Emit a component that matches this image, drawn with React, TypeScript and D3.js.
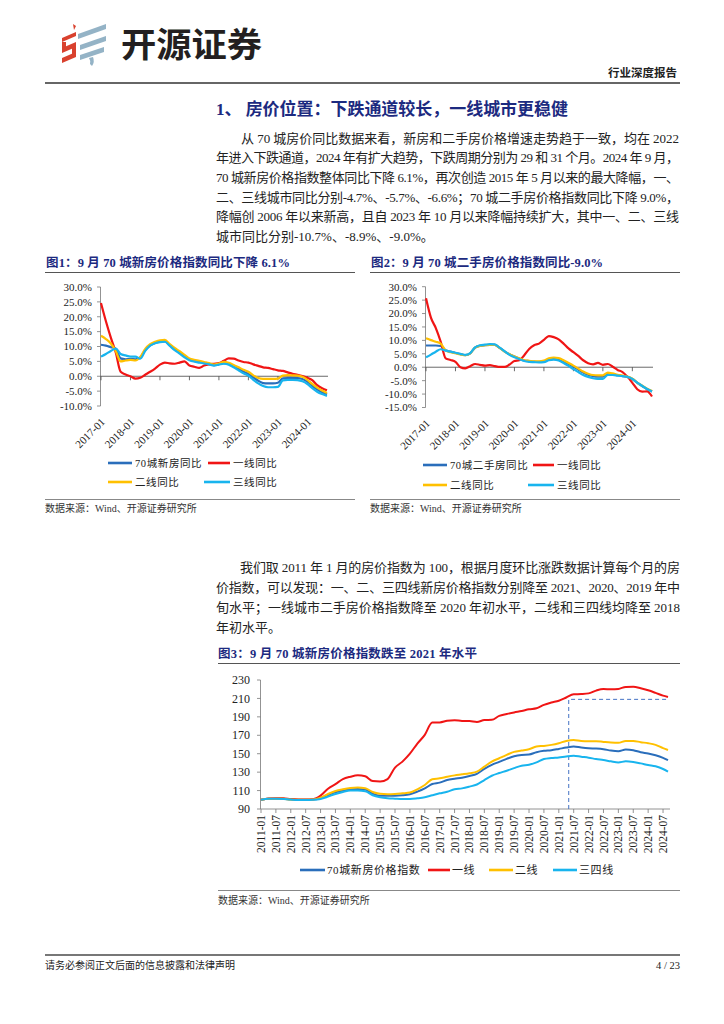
import * as d3 from 'd3';

// ---- data: YoY charts, every 2 months from 2017-01 (offset in months) ----
const yoyMonths = d3.range(0, 93, 2);
const yoyYearLabels = ['2017-01', '2018-01', '2019-01', '2020-01', '2021-01', '2022-01', '2023-01', '2024-01'];

const newHome70 = [10.6, 10.3, 9.8, 9.3, 6.0, 5.7, 5.8, 5.7, 6.3, 8.8, 10.4, 11.2, 11.6, 11.7, 10.4, 9.1, 8.0, 6.8, 5.7, 5.2, 4.9, 4.5, 4.1, 3.7, 4.1, 4.4, 4.2, 3.4, 2.5, 1.6, 0.8, -0.4, -1.5, -2.3, -2.4, -2.4, -2.2, -0.7, -0.6, -0.6, -0.6, -0.9, -1.8, -3.2, -4.4, -5.4, -6.1];
const newTier1 = [24.6, 18.5, 13, 8, 1.5, 0.6, 0, -0.8, -0.5, 0.5, 1.5, 2.6, 3.9, 4.6, 4.3, 4.2, 4.6, 5.0, 3.6, 3.2, 2.8, 3.6, 4.0, 4.2, 4.4, 5.2, 6.0, 5.9, 5.3, 4.8, 4.6, 4.0, 3.5, 3.0, 2.8, 2.4, 2.0, 1.8, 1.3, 0.8, 0.5, 0.1, -0.5, -1.3, -3.0, -4.0, -4.7];
const newTier2 = [13.6, 12.5, 11, 8.5, 5.0, 5.3, 5.5, 5.3, 6.5, 9.2, 10.8, 11.6, 12.1, 12.2, 10.8, 9.5, 8.4, 7.2, 6.0, 5.5, 5.2, 4.8, 4.4, 3.9, 4.3, 4.8, 4.5, 3.8, 3.0, 2.2, 1.5, 0.3, -0.6, -0.9, -0.9, -0.9, -0.8, 0.2, 0.4, 0.3, 0.2, -0.2, -1.2, -2.6, -3.8, -4.8, -5.6];
const newTier3 = [6.6, 7.5, 8.5, 9.3, 7.5, 7.0, 6.6, 6.6, 5.9, 8.5, 10.3, 11.1, 11.5, 11.6, 10.2, 8.8, 7.6, 6.4, 5.4, 4.9, 4.6, 4.3, 4.0, 3.6, 3.9, 4.2, 3.9, 3.0, 2.0, 1.0, 0.2, -1.2, -2.4, -3.3, -3.7, -3.7, -3.6, -1.4, -1.2, -1.2, -1.3, -1.7, -2.6, -4.0, -5.2, -6.0, -6.6];

const usedHome70 = [8.1, 8.1, 8.1, 7.9, 6.3, 5.8, 5.3, 4.9, 4.5, 5.2, 7.3, 8.0, 8.2, 8.3, 8.3, 7.2, 5.9, 4.8, 4.0, 3.2, 2.5, 2.3, 2.1, 2.0, 2.2, 2.9, 3.1, 2.9, 2.2, 1.2, 0.2, -0.9, -2.0, -2.8, -3.3, -3.5, -3.5, -2.6, -2.7, -3.0, -3.3, -3.6, -4.4, -5.8, -7.0, -8.2, -9.0];
const usedTier1 = [25.7, 18.5, 14.6, 9.5, 3.3, 2.7, 2.0, 0.0, -0.4, 0.4, 1.2, 0.9, 0.6, 0.8, 0.4, 0.1, 0.1, 1.0, 2.3, 2.6, 4.5, 6.8, 8.2, 8.8, 10.2, 11.6, 11.2, 10.4, 8.8, 7.0, 5.6, 4.2, 2.6, 1.5, 1.1, 1.6, 0.9, 1.2, 0.2, -1.0, -1.8, -3.5, -5.8, -8.2, -9.1, -9.0, -10.9];
const usedTier2 = [10.8, 10.1, 9.5, 8.8, 6.3, 5.6, 5.2, 4.8, 4.5, 5.2, 7.3, 8.0, 8.2, 8.3, 8.3, 7.2, 5.8, 4.8, 4.0, 3.3, 2.6, 2.4, 2.2, 2.2, 2.5, 3.3, 3.6, 3.4, 2.6, 1.6, 0.6, -0.5, -1.6, -2.4, -2.9, -3.0, -3.0, -2.0, -2.3, -2.8, -3.1, -3.5, -4.3, -5.7, -6.9, -8.0, -8.9];
const usedTier3 = [3.7, 4.7, 5.8, 6.7, 6.2, 5.8, 5.4, 5.0, 4.6, 5.3, 7.4, 8.2, 8.4, 8.6, 8.5, 7.3, 5.9, 4.6, 3.7, 3.0, 2.3, 2.0, 1.9, 1.8, 1.9, 2.6, 2.8, 2.5, 1.6, 0.5, -0.7, -1.8, -2.9, -3.6, -4.1, -4.3, -4.3, -2.9, -2.9, -3.1, -3.3, -3.6, -4.4, -5.7, -7.0, -8.1, -9.0];

// ---- data: price index (2011-01 = 100), quarterly samples, months from 2011-01 ----
const idxMonths = [...d3.range(0, 163, 3), 164];
const idxTickLabels = ['2011-01', '2011-07', '2012-01', '2012-07', '2013-01', '2013-07', '2014-01', '2014-07', '2015-01', '2015-07', '2016-01', '2016-07', '2017-01', '2017-07', '2018-01', '2018-07', '2019-01', '2019-07', '2020-01', '2020-07', '2021-01', '2021-07', '2022-01', '2022-07', '2023-01', '2023-07', '2024-01', '2024-07'];
const idx70 = [100, 101, 101.2, 101, 100.3, 100, 100, 100.2, 102, 105.2, 108.1, 110, 111.4, 111.8, 111.2, 106.7, 104.5, 104.5, 104.5, 104.9, 106, 108.8, 112.4, 117.1, 118.6, 121.5, 122.9, 124, 125.8, 128.1, 133.5, 137.9, 141.1, 144.4, 147.3, 148.7, 149.1, 151.6, 153.1, 153.8, 155.2, 156.7, 157.8, 156.7, 155.9, 155.6, 154.9, 153.4, 152.7, 154.5, 153.8, 151.6, 150.2, 148.3, 145.5, 143];
const idxTier1 = [100, 101.5, 101.8, 101.6, 100.8, 100.3, 100.2, 100.6, 104.5, 112, 117, 122.5, 125, 126.5, 125.5, 120.3, 119.8, 122.5, 135, 141.4, 150, 161, 170.5, 184, 184, 185.8, 186.4, 185.5, 185.4, 184.5, 186.5, 186.8, 191, 193, 194.8, 196.3, 198.2, 199.3, 203, 205.5, 207.5, 211, 214.5, 214.8, 215.5, 218.5, 220.2, 219.9, 220.3, 222.5, 222.6, 221, 218.8, 216, 213, 211.5];
const idxTier2 = [100, 101, 101.2, 101, 100.3, 100, 100, 100.3, 102.3, 106.3, 109.5, 111.4, 112.8, 113.3, 112.5, 108.5, 106.5, 106, 106.3, 107, 107.8, 111.4, 116, 122.2, 123.3, 125, 126.5, 127.6, 128.8, 130.5, 136, 141.4, 145.1, 148.7, 152, 153.4, 154.9, 157.8, 158.5, 159.6, 161.4, 163.9, 165, 163.9, 163.6, 163.6, 162.8, 162.1, 161.8, 163.9, 163.9, 162.5, 161.4, 159.6, 156, 154];
const idxTier34 = [100, 101, 101, 100.8, 100.2, 99.8, 99.8, 100, 100.9, 103.4, 106.3, 108.5, 110, 110, 109.2, 104.9, 102.7, 101.6, 101.2, 100.9, 100.9, 101.6, 102.7, 104.9, 107, 108.8, 111.4, 112.4, 114.3, 116.6, 121.4, 126.1, 129, 131.5, 134.4, 137, 138, 140.6, 144.2, 145.3, 146, 147.1, 147.8, 146.7, 145.7, 144.2, 143.1, 141.7, 140.6, 141.7, 141, 139.5, 137.7, 136.3, 133.4, 130.5];
const idxRefMonth = 124; // 2021-05
const idxRefLevel = 209;

const BLUE = '#2a6ebb';
const RED = '#f01515';
const YELLOW = '#ffc000';
const CYAN = '#18b4ee';
const NAVY = '#1c2a80';
const FONT = '"Liberation Serif", "Noto Sans CJK SC", serif';

function YoYChart({ frameX, plotL, plotR, yTop, yBottom, yMin, yMax, title, titleLen, series, legend }: any) {
  const x = d3.scaleLinear().domain([0, 92]).range([plotL, plotR]);
  const y = d3.scaleLinear().domain([yMin, yMax]).range([yBottom, yTop]);
  const line = d3.line<[number, number]>().x((d) => x(d[0])).y((d) => y(d[1])).curve(d3.curveMonotoneX);
  const yTicks = d3.range(yMin, yMax + 0.1, 5);
  return (
    <g fontFamily={FONT}>
      <text x={frameX + 1} y={267} fontSize={12.5} fontWeight="bold" fill={NAVY} textLength={titleLen} lengthAdjust="spacing">{title}</text>
      <line x1={frameX} x2={frameX + 310} y1={272.5} y2={272.5} stroke="#555" strokeWidth={1} />
      <line x1={plotL - 0.5} x2={plotL - 0.5} y1={yTop} y2={yBottom} stroke="#777" strokeWidth={0.8} />
      {yTicks.map((t) => (
        <g key={t}>
          <line x1={plotL - 4} x2={plotL - 0.5} y1={y(t)} y2={y(t)} stroke="#777" strokeWidth={0.8} />
          <text x={plotL - 9} y={y(t)} dy="0.35em" fontSize={11} textAnchor="end" fill="#222">{t.toFixed(1) + '%'}</text>
        </g>
      ))}
      <line x1={plotL - 0.5} x2={plotR + 1} y1={y(0)} y2={y(0)} stroke="#444" strokeWidth={0.8} />
      {yoyYearLabels.map((lab, i) => (
        <g key={lab}>
          <line x1={x(i * 12)} x2={x(i * 12)} y1={y(0)} y2={y(0) + 4} stroke="#444" strokeWidth={0.8} />
          <text transform={`translate(${x(i * 12) + 2},${yBottom + 14}) rotate(-45)`} dy="0.35em" fontSize={11} textAnchor="end" fill="#222">{lab}</text>
        </g>
      ))}
      {series.map((s: any) => (
        <path key={s.name} d={line(yoyMonths.map((m, i) => [m, s.values[i]]) as [number, number][]) || ''} fill="none" stroke={s.color} strokeWidth={2.2} strokeLinejoin="round" />
      ))}
      {legend.map((l: any) => (
        <g key={l.name}>
          <line x1={l.x1} x2={l.x2} y1={l.y} y2={l.y} stroke={l.color} strokeWidth={2.6} />
          <text x={l.x2 + 3} y={l.y} dy="0.35em" fontSize={10.5} letterSpacing={0.6} fill="#222">{l.name}</text>
        </g>
      ))}
      <line x1={frameX} x2={frameX + 310} y1={499.5} y2={499.5} stroke="#888" strokeWidth={1} />
      <text x={frameX} y={511.5} fontSize={10} fill="#333">数据来源：Wind、开源证券研究所</text>
    </g>
  );
}

function IndexChart() {
  const x = d3.scaleLinear().domain([0, 164]).range([261, 668]);
  const y = d3.scaleLinear().domain([90, 230]).range([809, 680]);
  const line = d3.line<[number, number]>().x((d) => x(d[0])).y((d) => y(d[1])).curve(d3.curveMonotoneX);
  const series = [
    { name: '70城新房价格指数', values: idx70, color: BLUE },
    { name: '一线', values: idxTier1, color: RED },
    { name: '二线', values: idxTier2, color: YELLOW },
    { name: '三四线', values: idxTier34, color: CYAN },
  ];
  const legendX = [300, 428, 489, 553];
  const legendW = [25, 22, 24, 24];
  return (
    <g fontFamily={FONT}>
      <text x={218} y={657.5} fontSize={12.5} fontWeight="bold" fill={NAVY} textLength={259} lengthAdjust="spacing">图3：9 月 70 城新房价格指数跌至 2021 年水平</text>
      <line x1={218} x2={680} y1={663.5} y2={663.5} stroke="#555" strokeWidth={1} />
      <line x1={260.5} x2={260.5} y1={680} y2={809} stroke="#777" strokeWidth={0.8} />
      {d3.range(90, 231, 20).map((t) => (
        <g key={t}>
          <line x1={257} x2={260.5} y1={y(t)} y2={y(t)} stroke="#777" strokeWidth={0.8} />
          <text x={250} y={y(t)} dy="0.35em" fontSize={12} textAnchor="end" fill="#222">{t}</text>
        </g>
      ))}
      <line x1={260.5} x2={670} y1={809} y2={809} stroke="#777" strokeWidth={0.8} />
      {idxTickLabels.map((lab, i) => (
        <g key={lab}>
          <line x1={x(i * 6)} x2={x(i * 6)} y1={809} y2={813} stroke="#777" strokeWidth={0.8} />
          <text transform={`translate(${x(i * 6)},${815}) rotate(-90)`} dy="0.35em" fontSize={11.5} textAnchor="end" fill="#222">{lab}</text>
        </g>
      ))}
      <path d={`M${x(idxRefMonth)},${809}V${y(idxRefLevel)}H${x(164)}`} fill="none" stroke="#4472c4" strokeWidth={1} strokeDasharray="4,3" />
      {series.map((s) => (
        <path key={s.name} d={line(idxMonths.map((m, i) => [m, s.values[i]]) as [number, number][]) || ''} fill="none" stroke={s.color} strokeWidth={2} strokeLinejoin="round" />
      ))}
      {series.map((s, i) => (
        <g key={s.name}>
          <line x1={legendX[i]} x2={legendX[i] + legendW[i]} y1={870} y2={870} stroke={s.color} strokeWidth={2.6} />
          <text x={legendX[i] + legendW[i] + 2} y={870} dy="0.35em" fontSize={11} letterSpacing={0.6} fill="#222">{s.name}</text>
        </g>
      ))}
      <line x1={218} x2={680} y1={890.5} y2={890.5} stroke="#888" strokeWidth={1} />
      <text x={218} y={903.5} fontSize={10} fill="#333">数据来源：Wind、开源证券研究所</text>
    </g>
  );
}

const para1 = [
  '从 70 城房价同比数据来看，新房和二手房价格增速走势趋于一致，均在 2022',
  '年进入下跌通道，2024 年有扩大趋势，下跌周期分别为 29 和 31 个月。2024 年 9 月，',
  '70 城新房价格指数整体同比下降 6.1%，再次创造 2015 年 5 月以来的最大降幅，一、',
  '二、三线城市同比分别-4.7%、-5.7%、-6.6%；70 城二手房价格指数同比下降 9.0%，',
  '降幅创 2006 年以来新高，且自 2023 年 10 月以来降幅持续扩大，其中一、二、三线',
  '城市同比分别-10.7%、-8.9%、-9.0%。',
];
const para2 = [
  '我们取 2011 年 1 月的房价指数为 100，根据月度环比涨跌数据计算每个月的房',
  '价指数，可以发现：一、二、三四线新房价格指数分别降至 2021、2020、2019 年中',
  '旬水平；一线城市二手房价格指数降至 2020 年初水平，二线和三四线均降至 2018',
  '年初水平。',
];

function Paragraph({ lines, top, indentX, leftX, rightX, step }: any) {
  return (
    <g fontFamily={FONT} fontSize={13} fill="#222">
      {lines.map((t: string, i: number) => {
        const x0 = i === 0 ? indentX : leftX;
        const last = i === lines.length - 1;
        return (
          <text key={i} x={x0} y={top + i * step} {...(last ? {} : { textLength: rightX - x0, lengthAdjust: 'spacing' })}>{t}</text>
        );
      })}
    </g>
  );
}

export default function App() {
  const chart1 = [
    { name: '70城新房同比', values: newHome70, color: BLUE },
    { name: '一线同比', values: newTier1, color: RED },
    { name: '二线同比', values: newTier2, color: YELLOW },
    { name: '三线同比', values: newTier3, color: CYAN },
  ];
  const chart2 = [
    { name: '70城二手房同比', values: usedHome70, color: BLUE },
    { name: '一线同比', values: usedTier1, color: RED },
    { name: '二线同比', values: usedTier2, color: YELLOW },
    { name: '三线同比', values: usedTier3, color: CYAN },
  ];
  const legend1 = [
    { name: '70城新房同比', color: BLUE, x1: 108, x2: 132, y: 463 },
    { name: '一线同比', color: RED, x1: 208, x2: 230, y: 463 },
    { name: '二线同比', color: YELLOW, x1: 108, x2: 132, y: 482 },
    { name: '三线同比', color: CYAN, x1: 204, x2: 230, y: 482 },
  ];
  const legend2 = [
    { name: '70城二手房同比', color: BLUE, x1: 423, x2: 447, y: 465 },
    { name: '一线同比', color: RED, x1: 533, x2: 554, y: 465 },
    { name: '二线同比', color: YELLOW, x1: 423, x2: 447, y: 485 },
    { name: '三线同比', color: CYAN, x1: 528, x2: 554, y: 485 },
  ];
  return (
    <svg width={724} height={1024} style={{ position: 'absolute', left: 0, top: 0, background: '#fff' }}>
      {/* header */}
      <g>
        <path d="M73,24 L76,26 L74,30 Z" fill="#d9412e" />
        <path d="M62,38 L76,32 L76,36 L62,42 Z" fill="#d9412e" />
        <path d="M62,42 L66,42 L66,48 L62,48 Z" fill="#d9412e" />
        <path d="M62,48 L76,42 L76,47 L62,53 Z" fill="#d9412e" />
        <path d="M72,46 L76,46 L76,55 L72,55 Z" fill="#d9412e" />
        <path d="M62,58 L76,52 L76,57 L62,63 Z" fill="#d9412e" />
        <path d="M78,34 L106,24 L106,29 L78,39 Z" fill="#94b3c6" />
        <path d="M80,45 L106,36 L106,41 L80,50 Z" fill="#94b3c6" />
        <path d="M80,55 L104,47 L104,52 L80,60 Z" fill="#94b3c6" />
        <path d="M89,58 L93,57 Q95,62 92,66 L90,64 Q91,61 89,58 Z" fill="#94b3c6" />
      </g>
      <text x={121} y={57} fontFamily='"Noto Sans CJK SC", sans-serif' fontWeight="bold" fontSize={34} fill="#231f20" textLength={141} lengthAdjust="spacingAndGlyphs">开源证券</text>
      <text x={677} y={77} fontFamily='"Noto Sans CJK SC", sans-serif' fontWeight="bold" fontSize={11.5} textAnchor="end" fill="#222">行业深度报告</text>
      <line x1={45} x2={680} y1={83} y2={83} stroke="#333" strokeWidth={1.5} />

      <text x={216} y={115} fontFamily={FONT} fontWeight="bold" fontSize={17} fill={NAVY} textLength={352} lengthAdjust="spacing">1、 房价位置：下跌通道较长，一线城市更稳健</text>
      <Paragraph lines={para1} top={142.5} indentX={241} leftX={216} rightX={679} step={19.7} />

      <YoYChart frameX={45} plotL={101} plotR={327} yTop={287} yBottom={406} yMin={-10} yMax={30} title="图1：9 月 70 城新房价格指数同比下降 6.1%" titleLen={244} series={chart1} legend={legend1} />
      <YoYChart frameX={370} plotL={426} plotR={652} yTop={286.7} yBottom={407.5} yMin={-15} yMax={30} title="图2：9 月 70 城二手房价格指数同比-9.0%" titleLen={232} series={chart2} legend={legend2} />

      <Paragraph lines={para2} top={571.5} indentX={240} leftX={216} rightX={680} step={20} />
      <IndexChart />

      <line x1={45} x2={680} y1={955} y2={955} stroke="#777" strokeWidth={2} />
      <text x={45} y={969} fontFamily={FONT} fontSize={10} fill="#222">请务必参阅正文后面的信息披露和法律声明</text>
      <text x={680} y={969} fontFamily={FONT} fontSize={10.5} textAnchor="end" fill="#222">4 / 23</text>
    </svg>
  );
}
